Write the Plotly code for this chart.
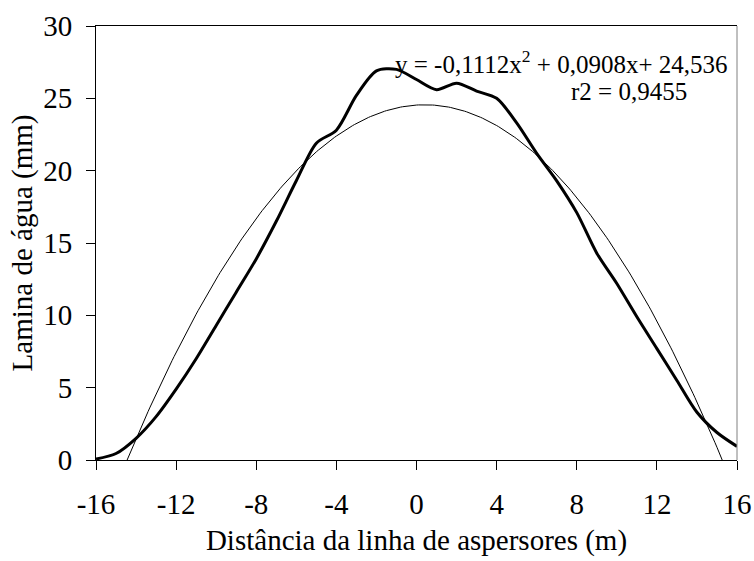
import plotly.graph_objects as go

# Measured data (thick line)
distancia = [-16, -15, -14, -13, -12, -11, -10, -9, -8, -7, -6, -5, -4, -3, -2, -1,
             0, 1, 2, 3, 4, 5, 6, 7, 8, 9, 10, 11, 12, 13, 14, 15, 16]
lamina = [0.07, 0.45, 1.5, 3.0, 4.9, 7.0, 9.3, 11.6, 13.9, 16.5, 19.3, 21.9, 22.8,
          25.2, 26.9, 27.0, 26.3, 25.6, 26.05, 25.5, 25.0, 23.3, 21.2, 19.3, 17.1,
          14.3, 12.2, 9.9, 7.7, 5.5, 3.3, 1.9, 0.94]

# Trendline coefficients (as printed on the chart)
coef_a = -0.1112
coef_b = 0.0908
coef_c = 24.536
trend_x = [x / 10 for x in range(-160, 161)]
trend_y = [coef_a * x * x + coef_b * x + coef_c for x in trend_x]

x_ticks = [-16, -12, -8, -4, 0, 4, 8, 12, 16]
y_ticks = [0, 5, 10, 15, 20, 25, 30]

FONT = "Liberation Serif"

fig = go.Figure()
fig.add_trace(go.Scatter(x=trend_x, y=trend_y, mode="lines",
                         line=dict(color="black", width=1), showlegend=False))
fig.add_trace(go.Scatter(x=distancia, y=lamina, mode="lines",
                         line=dict(color="black", width=3, shape="spline", smoothing=0.8),
                         showlegend=False))

fig.add_annotation(x=-1.15, y=27.53, xref="x", yref="y", xanchor="left", yanchor="middle",
                   text="y = -0,1112x<sup>2</sup> + 0,0908x+ 24,536", showarrow=False,
                   font=dict(family=FONT, size=25, color="black"))
fig.add_annotation(x=7.6, y=25.45, xref="x", yref="y", xanchor="left", yanchor="middle",
                   text="r2 = 0,9455", showarrow=False,
                   font=dict(family=FONT, size=25, color="black"))

fig.add_shape(type="line", xref="paper", yref="paper", x0=1, x1=1, y0=0, y1=1,
              line=dict(color="#808080", width=1))

fig.update_layout(
    width=754, height=561,
    margin=dict(l=96, r=17, t=26, b=101),
    plot_bgcolor="white", paper_bgcolor="white",
    font=dict(family=FONT, size=29, color="black"),
    xaxis=dict(range=[-16, 16], tickvals=x_ticks, ticktext=[str(v) for v in x_ticks],
               automargin=False,
               showgrid=False, zeroline=False, showline=True, linecolor="black", linewidth=1,
               mirror=True, ticks="outside", ticklen=9, tickcolor="black",
               tickfont=dict(family=FONT, size=29), ticklabelstandoff=9,
               title=dict(text="Distância da linha de aspersores (m)",
                          font=dict(family=FONT, size=29), standoff=10)),
    yaxis=dict(range=[0, 30], tickvals=y_ticks, ticktext=[str(v) for v in y_ticks],
               automargin=False,
               showgrid=False, zeroline=False, showline=True, linecolor="black", linewidth=1,
               ticks="outside", ticklen=9, tickcolor="black",
               tickfont=dict(family=FONT, size=29), ticklabelstandoff=8,
               title=dict(text="Lamina de água (mm)",
                          font=dict(family=FONT, size=29), standoff=2)),
)

fig.write_html("out.html")
